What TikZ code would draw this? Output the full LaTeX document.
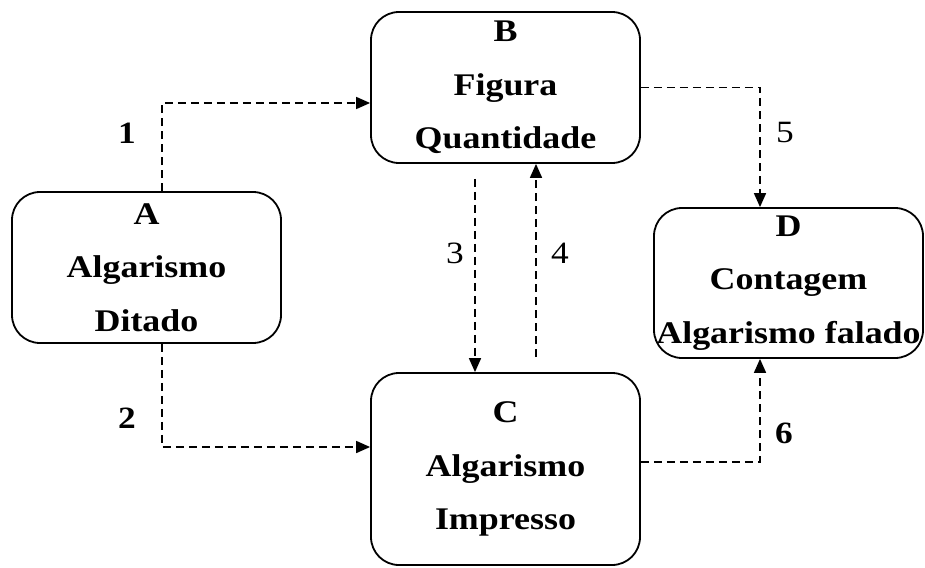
\documentclass[tikz,border=0pt]{standalone}
\usepackage{fontspec}
\setmainfont[FakeStretch=1.14]{Liberation Serif}
\usetikzlibrary{arrows.meta}
\begin{document}
\begin{tikzpicture}[x=1pt,y=-1pt,
  caixa/.style={draw, line width=1.8pt, rounded corners=28pt, minimum width=269pt,
    align=center, inner sep=0pt, font=\fontsize{31.5}{53.5}\selectfont\bfseries},
  seta/.style={line width=1.7pt, dash pattern=on 8pt off 5pt,
    -{Triangle[length=14pt,width=12pt]}},
  num/.style={font=\fontsize{31}{31}\selectfont}]
\useasboundingbox (0,0) rectangle (925,567);
%\draw [lightgray](0,0) grid[step=50] (925,567);

% caixas
\node[caixa, minimum height=151pt] (A) at (146.5,267.5) {A\\Algarismo\\Ditado};
\node[caixa, minimum height=151pt] (B) at (505.5,87.5) {B\\Figura\\Quantidade};
\node[caixa, minimum height=192pt] (C) at (505.5,469) {C\\Algarismo\\Impresso};
\node[caixa, minimum height=150pt] (D) at (788.5,283) {D\\Contagem\\Algarismo falado};

% setas
\draw[seta] ([xshift=15.5pt]A.north) |- ([yshift=-15.5pt]B.west);
\draw[seta] ([xshift=15.5pt]A.south) |- ([yshift=22pt]C.west);
\draw[seta] ([xshift=-30.5pt,yshift=-15pt]B.south) -- ([xshift=-30.5pt]C.north);
\draw[seta] ([xshift=30.5pt,yshift=15pt]C.north) -- ([xshift=30.5pt]B.south);
\draw[seta] (B.east) -| ([xshift=-28.5pt]D.north);
\draw[seta] ([yshift=7pt]C.east) -| ([xshift=-28.5pt]D.south);

\node[num] (n1) at (127,133) {\bfseries 1};
\node[num] (n2) at (127,418) {\bfseries 2};
\node[num] (n3) at (455,253) {3};
\node[num] (n4) at (560,253) {4};
\node[num] (n5) at (785,133) {5};
\node[num] (n6) at (784,433) {\bfseries 6};
\end{tikzpicture}
\end{document}
